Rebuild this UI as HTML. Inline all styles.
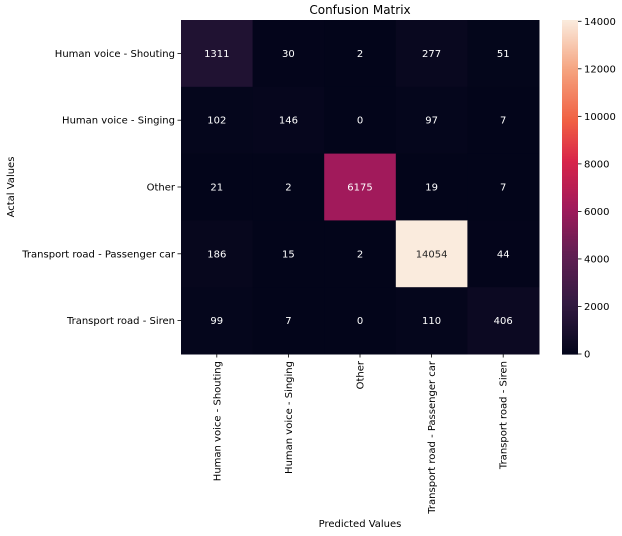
<!DOCTYPE html>
<html><head><meta charset="utf-8"><style>
body{margin:0;background:#fff;}
svg{display:block;font-family:"DejaVu Sans","Liberation Sans",sans-serif;}
</style></head><body>
<svg id="chart" width="622" height="536"></svg>
<script>
const labels = ["Human voice - Shouting","Human voice - Singing","Other","Transport road - Passenger car","Transport road - Siren"];
const row0 = [1311,30,2,277,51];
const row1 = [102,146,0,97,7];
const row2 = [21,2,6175,19,7];
const row3 = [186,15,2,14054,44];
const row4 = [99,7,0,110,406];
const cbTicks = [0,2000,4000,6000,8000,10000,12000,14000];
const matrix = [row0,row1,row2,row3,row4];
const vmax = Math.max(...matrix.flat());
const X0=181,X1=539,Y0=20,Y1=354;
const cw=(X1-X0)/labels.length, ch=(Y1-Y0)/labels.length;
const stops=[[0,"#03051a"],[0.15,"#321a41"],[0.3,"#611f53"],[0.44,"#a11a5b"],[0.58,"#d8254a"],[0.7,"#f06043"],[0.85,"#f5a27e"],[1,"#faebdd"]];
function hex(h){return [1,3,5].map(i=>parseInt(h.substr(i,2),16));}
function cmap(t){t=Math.max(0,Math.min(1,t));for(let i=1;i<stops.length;i++){if(t<=stops[i][0]){const [a,ca]=stops[i-1],[b,cb]=stops[i];const f=(t-a)/(b-a);const A=hex(ca),B=hex(cb);return `rgb(${A.map((v,k)=>Math.round(v+(B[k]-v)*f)).join(',')})`;}}return stops[stops.length-1][1];}
const svg=document.getElementById('chart');const NS="http://www.w3.org/2000/svg";
function el(tag,attrs,text){const e=document.createElementNS(NS,tag);for(const k in attrs)e.setAttribute(k,attrs[k]);if(text!==undefined)e.textContent=text;svg.appendChild(e);return e;}
const xs=j=>X0+j*cw, ys=i=>Y0+i*ch;
let t=el('text',{x:(X0+X1)/2,y:14,'text-anchor':'middle','font-size':12,fill:'#000'},'Confusion Matrix');


matrix.forEach((row,i)=>row.forEach((v,j)=>{
 const r=el('rect',{x:xs(j),y:ys(i),width:cw+0.5,height:ch+0.5,fill:cmap(v/vmax)});
 
 
 const tx=el('text',{x:xs(j)+cw/2,y:ys(i)+ch/2+3.5,'text-anchor':'middle','font-size':10,fill:(v/vmax>0.6?'#262626':'#fff')},String(v));
 
 
}));
labels.forEach((l,i)=>{
 const y=ys(i)+ch/2;
 el('line',{x1:X0-3.5,x2:X0,y1:y,y2:y,stroke:'#000','stroke-width':0.8});
 const tl=el('text',{x:X0-6,y:y+3.5,'text-anchor':'end','font-size':10,fill:'#000'},l);
 
 
 const x=xs(i)+cw/2;
 el('line',{x1:x,x2:x,y1:Y1,y2:Y1+3.5,stroke:'#000','stroke-width':0.8});
 const xl=el('text',{x:0,y:0,'text-anchor':'end','font-size':10,fill:'#000',transform:`translate(${x+3.5},${Y1+7}) rotate(-90)`},l);
 
 
});
const yt=el('text',{x:0,y:0,'text-anchor':'middle','font-size':10,fill:'#000',transform:`translate(14,${(Y0+Y1)/2}) rotate(-90)`},'Actal Values');


const xt=el('text',{x:(X0+X1)/2,y:527,'text-anchor':'middle','font-size':10,fill:'#000'},'Predicted Values');


// colorbar
const CX0=562,CX1=578,N=200;
for(let k=0;k<N;k++){const r=el('rect',{x:CX0,y:Y1-(k+1)*(Y1-Y0)/N,width:CX1-CX0,height:(Y1-Y0)/N+0.6,fill:cmap((k+0.5)/N)});
 
 }
cbTicks.forEach(v=>{const y=Y1-(v/vmax)*(Y1-Y0);
 el('line',{x1:CX1,x2:CX1+3.5,y1:y,y2:y,stroke:'#000','stroke-width':0.8});
 const ct=el('text',{x:CX1+6,y:y+3.5,'font-size':10,fill:'#000'},String(v));
 
 });
</script>
</body></html>
